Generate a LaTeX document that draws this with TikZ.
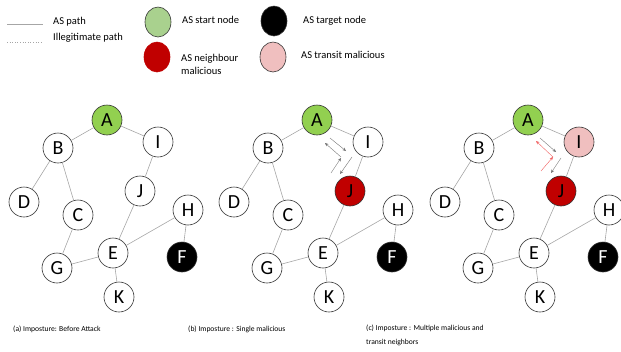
\documentclass[tikz,border=0pt]{standalone}
\usepackage{fontspec}
\setmainfont{Carlito}
\usetikzlibrary{arrows.meta,shapes.geometric}
\definecolor{startgreen}{HTML}{92D050}
\definecolor{leggreen}{HTML}{A9D18E}
\definecolor{malred}{HTML}{C00000}
\definecolor{transpink}{HTML}{F0BFBF}
\definecolor{edgegray}{HTML}{A6A6A6}
\definecolor{arrred}{HTML}{F06060}
\tikzset{
  asnode/.style={circle, draw=black!80, line width=0.6pt, fill=white, minimum size=30pt, inner sep=0pt, font=\fontsize{20}{20}\selectfont},
  asedge/.style={draw=edgegray, line width=0.6pt},
  mv/.style={-{Stealth[length=3.5pt,width=3pt]}, draw=black!55, line width=0.4pt},
  mvred/.style={-{Stealth[length=3.5pt,width=3pt]}, draw=arrred, line width=0.4pt},
  legsym/.style={ellipse, draw=black!80, line width=0.6pt, minimum width=26pt, minimum height=30pt, inner sep=0pt},
  legtxt/.style={anchor=west, font=\fontsize{10.5}{13}\selectfont, align=left, inner sep=0pt},
  captxt/.style={anchor=west, font=\fontsize{7.6}{14}\selectfont, align=left, inner sep=0pt}
}
\newcommand\asgraph[4]{%
\begin{scope}[xshift=#2pt]
\node[asnode,fill=startgreen] (#1A) at (107,120) {A};
\node[asnode] (#1B) at (58,148) {B};
\node[asnode,#3] (#1I) at (158,142) {I};
\node[asnode] (#1D) at (24,202) {D};
\node[asnode,#4] (#1J) at (140,191) {J};
\node[asnode] (#1C) at (78,215) {C};
\node[asnode] (#1H) at (188,210) {H};
\node[asnode] (#1E) at (113,253) {E};
\node[asnode,fill=black,text=white] (#1F) at (182,257) {F};
\node[asnode] (#1G) at (57,268) {G};
\node[asnode] (#1K) at (119,297) {K};
\draw[asedge] (#1A) -- (#1B);
\draw[asedge] (#1A) -- (#1I);
\draw[asedge] (#1B) -- (#1D);
\draw[asedge] (#1B) -- (#1C);
\draw[asedge] (#1C) -- (#1G);
\draw[asedge] (#1I) -- (#1J);
\draw[asedge] (#1J) -- (#1E);
\draw[asedge] (#1E) -- (#1H);
\draw[asedge] (#1H) -- (#1F);
\draw[asedge] (#1E) -- (#1G);
\draw[asedge] (#1E) -- (#1K);
\end{scope}}
\begin{document}
\begin{tikzpicture}[x=1pt,y=-1pt]
\useasboundingbox (0,0) rectangle (621,351);
% legend
\coordinate (lp1) at (7,24); \coordinate (lp2) at (43,24);
\coordinate (li1) at (7,42); \coordinate (li2) at (43,42);
\draw[asedge, line width=0.5pt] (lp1) -- (lp2);
\draw[asedge, line width=0.6pt, dotted] (li1) -- (li2);
\node[legtxt] (tpath) at (53,22) {AS path};
\node[legtxt] (tillegit) at (53,38) {Illegitimate path};
\node[legsym, fill=leggreen] (lgreen) at (158,22) {};
\node[legtxt] (tstart) at (182,20) {AS start node};
\node[legsym, fill=black] (lblack) at (274,21) {};
\node[legtxt] (ttarget) at (303,21) {AS target node};
\node[legsym, fill=malred, draw=malred] (lred) at (157,57) {};
\node[legtxt] (tneigh) at (181,64) {AS neighbour\\malicious};
\node[legsym, fill=transpink] (lpink) at (273,57) {};
\node[legtxt] (ttransit) at (301,55) {AS transit malicious};
% panels
\asgraph{a}{0}{}{}
\asgraph{b}{210}{}{fill=malred}
\asgraph{c}{421}{fill=transpink}{fill=malred}
% arrows panel b
\begin{scope}[xshift=210pt]
\coordinate (b1s) at (120,138); \coordinate (b1e) at (136,151);
\coordinate (b2s) at (131,157); \coordinate (b2e) at (115,143);
\coordinate (b3s) at (121,173); \coordinate (b3e) at (131,158);
\coordinate (b4s) at (142,157); \coordinate (b4e) at (130,174);
\end{scope}
\draw[mv] (b1s) -- (b1e);
\draw[mv] (b2s) -- (b2e);
\draw[mv] (b3s) -- (b3e);
\draw[mv] (b4s) -- (b4e);
% arrows panel c
\begin{scope}[xshift=421pt]
\coordinate (c1s) at (119,138); \coordinate (c1e) at (135,152);
\coordinate (c2s) at (132,157); \coordinate (c2e) at (115,141);
\coordinate (c3s) at (120,171); \coordinate (c3e) at (132,157);
\coordinate (c4s) at (140,158); \coordinate (c4e) at (130,173);
\end{scope}
\draw[mv] (c1s) -- (c1e);
\draw[mvred] (c2s) -- (c2e);
\draw[mvred] (c3s) -- (c3e);
\draw[mv] (c4s) -- (c4e);
% captions
\node[captxt] (capa) at (13,329) {(a) Imposture: Before Attack};
\node[captxt] (capb) at (188,329) {(b) Imposture : Single malicious};
\node[captxt, anchor=north west] (capc) at (366,325) {(c) Imposture : Multiple malicious and\\transit neighbors};
\end{tikzpicture}
\end{document}
